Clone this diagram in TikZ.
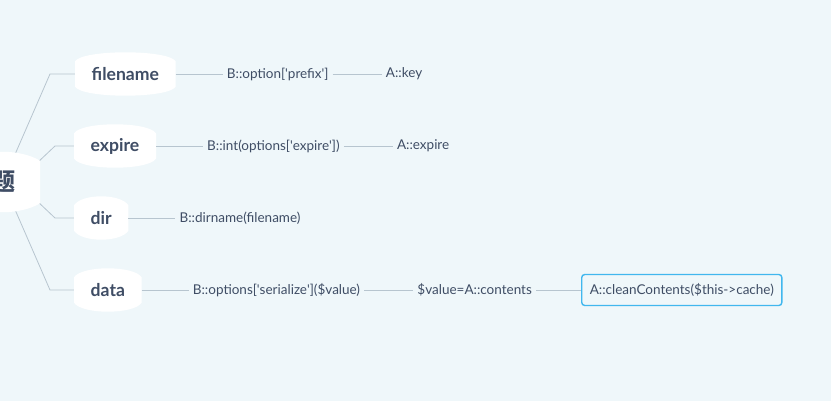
\documentclass[tikz,border=0pt]{standalone}
\usepackage{fontspec}
\setmainfont{Lato}
\newfontfamily\cjk{Noto Sans CJK SC}
\usetikzlibrary{positioning,backgrounds}
\definecolor{bgblue}{HTML}{EFF7FA}
\definecolor{inkgray}{HTML}{3F4D65}
\definecolor{linegray}{HTML}{B7C5CF}
\definecolor{boxblue}{HTML}{41B7EE}
\newcommand{\sq}{\textquotesingle}

\begin{document}
\begin{tikzpicture}[x=1pt, y=-1pt,
    roottopic/.style={inner sep=0pt, minimum width=74pt, minimum height=42pt, font=\fontsize{24}{26}\selectfont\cjk\bfseries, text=inkgray},
    topic/.style={anchor=west, inner xsep=16.5pt, inner ysep=0pt, minimum height=25pt, font=\fontsize{17.6}{20}\selectfont\bfseries, text=inkgray},
    leaf/.style={inner xsep=4pt, font=\fontsize{13.5}{15}\selectfont, text=inkgray},
    pick/.style={draw=boxblue, line width=1.4pt, rounded corners=3pt, inner xsep=8pt, minimum height=31pt, font=\fontsize{13.5}{15}\selectfont, text=inkgray},
    link/.style={draw=linegray, line width=0.8pt}]
    \useasboundingbox (0,0) rectangle (831,401);

    \node[roottopic] (root) at (3,182) {题};

    \node[topic] (fn) at (75,74) {filename};
    \node[topic] (ex) at (74,146) {expire};
    \node[topic] (dr) at (74,218) {dir};
    \node[topic] (dt) at (74,290) {data};

    \node[leaf, right=47pt of fn] (fn1) {B::option[\sq prefix\sq]};
    \node[leaf, right=49pt of fn1] (fn2) {A::key};
    \node[leaf, right=47pt of ex] (ex1) {B::int(options[\sq expire\sq])};
    \node[leaf, right=49pt of ex1] (ex2) {A::expire};
    \node[leaf, right=47pt of dr] (dr1) {B::dirname(filename)};
    \node[leaf, right=47pt of dt] (dt1) {B::options[\sq serialize\sq](\$value)};
    \node[leaf, right=49pt of dt1] (dt2) {\$value=A::contents};
    \node[pick, right=45pt of dt2] (dt3) {A::cleanContents(\$this->cache)};

    \begin{scope}[on background layer]
    \fill[bgblue] (0,0) rectangle (831,401);
    % branches out of the root
    \draw[link] (root.center) -- ([xshift=-25pt]fn.west) -- (fn.west);
    \draw[link] ([xshift=14pt]root.center) -- ([xshift=-19pt]ex.west) -- (ex.west);
    \draw[link] ([xshift=14pt]root.center) -- ([xshift=-19pt]dr.west) -- (dr.west);
    \draw[link] (root.center) -- ([xshift=-24pt]dt.west) -- (dt.west);
    % white topic shapes
    \fill[white] (root.north west) .. controls +(20,-12) and +(-20,-12) .. (root.north east)
        -- (root.south east) .. controls +(-20,12) and +(20,12) .. (root.south west) -- cycle;
    \foreach \n in {fn,ex,dr,dt}
        \fill[white] (\n.north west) .. controls +(8,-12) and +(-8,-12) .. (\n.north east)
            -- (\n.south east) .. controls +(-8,12) and +(8,12) .. (\n.south west) -- cycle;
    \end{scope}

    \draw[link] (fn) -- (fn1) -- (fn2);
    \draw[link] (ex) -- (ex1) -- (ex2);
    \draw[link] (dr) -- (dr1);
    \draw[link] (dt) -- (dt1) -- (dt2) -- (dt3);
\end{tikzpicture}
\end{document}
